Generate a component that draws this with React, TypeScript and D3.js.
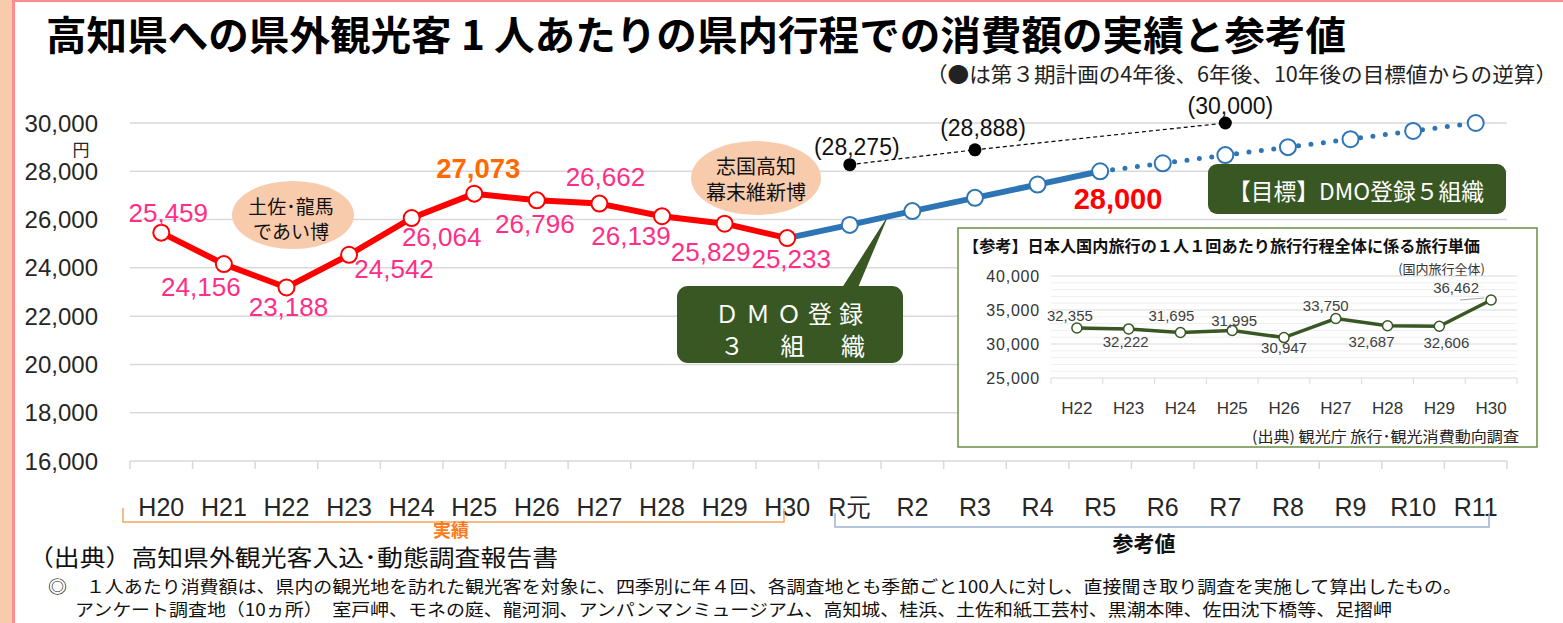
import React from "react";
import * as d3 from "d3";

const categories = ["H20","H21","H22","H23","H24","H25","H26","H27","H28","H29","H30","R元","R2","R3","R4","R5","R6","R7","R8","R9","R10","R11"];
const actualCats = ["H20","H21","H22","H23","H24","H25","H26","H27","H28","H29","H30"];
const actualValues = [25459, 24156, 23188, 24542, 26064, 27073, 26796, 26662, 26139, 25829, 25233];
const refSolidCats = ["H30","R元","R2","R3","R4","R5"];
const refSolidValues = [25233, 25780, 26350, 26900, 27450, 28000];
const refDottedCats = ["R5","R6","R7","R8","R9","R10","R11"];
const refDottedValues = [28000, 28330, 28670, 29000, 29330, 29670, 30000];
const targetCats = ["R元","R3","R7"];
const targetValues = [28275, 28888, 30000];
const yTicks = [16000, 18000, 20000, 22000, 24000, 26000, 28000, 30000];

const insetCats = ["H22","H23","H24","H25","H26","H27","H28","H29","H30"];
const insetValues = [32355, 32222, 31695, 31995, 30947, 33750, 32687, 32606, 36462];
const insetTicks = [25000, 30000, 35000, 40000];
const insetMinor = [26000,27000,28000,29000,31000,32000,33000,34000,36000,37000,38000,39000];

// label offsets (style)
const actualLabelOffsets: [number, number][] = [[7,-20],[-23,23],[2,20],[45,14],[30,19],[4,-25],[-2,24],[6,-27],[-31,20],[-14,28],[4,21]];
const insetLabelOffsets: [number, number][] = [[-7,-12],[-3,13],[-9,-17],[2,-10],[0,10],[-10,-13],[-16,16],[7,16],[-35,-13]];
const targetLabelOffsets: [number, number][] = [[7,-18],[8,-22],[5,-17]];

const JP = "'Noto Sans CJK JP', sans-serif";
const LAT = "'Liberation Sans', Arial, sans-serif";
const fmt = d3.format(",");

export default function App() {
  const x = d3.scaleBand<string>().domain(categories).range([130, 1507]);
  const bw = x.bandwidth();
  const cx = (c: string) => (x(c) as number) + bw / 2;
  const y = d3.scaleLinear().domain([16000, 30000]).range([461, 123]);

  const line = d3.line<[string, number]>().x(d => cx(d[0])).y(d => y(d[1]));
  const actualPts: [string, number][] = actualCats.map((c, i) => [c, actualValues[i]]);
  const solidPts: [string, number][] = refSolidCats.map((c, i) => [c, refSolidValues[i]]);
  const dotPts: [string, number][] = refDottedCats.map((c, i) => [c, refDottedValues[i]]);
  const tgtPts: [string, number][] = targetCats.map((c, i) => [c, targetValues[i]]);

  const ix = d3.scaleBand<string>().domain(insetCats).range([1051, 1517]);
  const ibw = ix.bandwidth();
  const icx = (c: string) => (ix(c) as number) + ibw / 2;
  const iy = d3.scaleLinear().domain([25000, 40000]).range([378, 276]);
  const iline = d3.line<number>().x((_, i) => icx(insetCats[i])).y(d => iy(d));

  const pink = "#FF2E86";
  const green = "#385723";
  const blue = "#2E75B6";

  return (
    <svg width={1563} height={623} style={{ position: "absolute", left: 0, top: 0, background: "#fff" }}>
      {/* border */}
      <rect x={0} y={0} width={12} height={623} fill="#F8CBAD" />
      <rect x={12} y={0} width={3} height={623} fill="#FF8C8C" />
      <rect x={12} y={0} width={1551} height={2} fill="#FF8C8C" />

      {/* title */}
      <text x={46} y={33} fontFamily={JP} fontWeight={700} fontSize={40} dominantBaseline="central" textLength={1300} lengthAdjust="spacingAndGlyphs" fill="#000">高知県への県外観光客 1 人あたりの県内行程での消費額の実績と参考値</text>
      <text x={926} y={73} fontFamily={JP} fontSize={21} dominantBaseline="central" textLength={631} lengthAdjust="spacingAndGlyphs" fill="#222">（●は第３期計画の4年後、6年後、10年後の目標値からの逆算）</text>

      {/* grid */}
      {yTicks.map(t => (
        <g key={t}>
          {t > 16000 && <line x1={130} x2={1507} y1={y(t)} y2={y(t)} stroke="#D9D9D9" strokeWidth={1.5} />}
          <text x={98} y={y(t)} textAnchor="end" dominantBaseline="central" fontFamily={LAT} fontSize={24} fill="#262626">{fmt(t)}</text>
        </g>
      ))}
      <text x={81} y={148} textAnchor="middle" dominantBaseline="central" fontFamily={JP} fontSize={17} fill="#262626">円</text>
      <line x1={130} x2={1507} y1={y(16000)} y2={y(16000)} stroke="#D9D9D9" strokeWidth={1.5} />
      {categories.map((c, i) => (
        <line key={"t" + c} x1={x(c) as number} x2={x(c) as number} y1={y(16000)} y2={y(16000) + 8} stroke="#D9D9D9" strokeWidth={1.5} />
      ))}
      <line x1={1507} x2={1507} y1={y(16000)} y2={y(16000) + 8} stroke="#D9D9D9" strokeWidth={1.5} />
      {categories.map(c => (
        <text key={"l" + c} x={cx(c)} y={507} textAnchor="middle" dominantBaseline="central" fontFamily={LAT} fontSize={25} fill="#262626">{c}</text>
      ))}

      {/* brackets */}
      <path d={`M123,508 V522 H784 V508`} fill="none" stroke="#F4A460" strokeWidth={1.5} />
      <text x={451} y={529} textAnchor="middle" dominantBaseline="central" fontFamily={JP} fontWeight={700} fontSize={18} fill="#FF7A1A">実績</text>
      <path d={`M835,513 V527 H1489 V513`} fill="none" stroke="#9DB3CF" strokeWidth={1.5} />
      <text x={1144} y={542} textAnchor="middle" dominantBaseline="central" fontFamily={JP} fontWeight={700} fontSize={21} fill="#111">参考値</text>

      {/* target dashed */}
      <path d={line(tgtPts) || ""} fill="none" stroke="#000" strokeWidth={1.2} strokeDasharray="4 3" />
      {tgtPts.map((p, i) => (
        <g key={"tg" + i}>
          <circle cx={cx(p[0])} cy={y(p[1])} r={6.5} fill="#000" />
          <text x={cx(p[0]) + targetLabelOffsets[i][0]} y={y(p[1]) + targetLabelOffsets[i][1]} textAnchor="middle" dominantBaseline="central" fontFamily={LAT} fontSize={23} fill="#111">({fmt(p[1])})</text>
        </g>
      ))}

      {/* callout wedge */}
      <polygon points="889,214 812,335 838,335" fill={green} />

      {/* lines */}
      <path d={line(dotPts) || ""} fill="none" stroke={blue} strokeWidth={5} strokeLinecap="round" strokeDasharray="0 12.5" />
      <path d={line(solidPts) || ""} fill="none" stroke={blue} strokeWidth={6} />
      <path d={line(actualPts) || ""} fill="none" stroke="#FF0000" strokeWidth={6} strokeLinejoin="round" />
      {dotPts.slice(1).map((p, i) => (
        <circle key={"dp" + i} cx={cx(p[0])} cy={y(p[1])} r={8} fill="#fff" stroke={blue} strokeWidth={2} />
      ))}
      {solidPts.slice(1).map((p, i) => (
        <circle key={"sp" + i} cx={cx(p[0])} cy={y(p[1])} r={8} fill="#fff" stroke={blue} strokeWidth={2} />
      ))}
      {actualPts.map((p, i) => (
        <circle key={"ap" + i} cx={cx(p[0])} cy={y(p[1])} r={8} fill="#fff" stroke="#FF0000" strokeWidth={2} />
      ))}
      {actualPts.map((p, i) => (
        <text key={"al" + i} x={cx(p[0]) + actualLabelOffsets[i][0]} y={y(p[1]) + actualLabelOffsets[i][1]} textAnchor="middle" dominantBaseline="central" fontFamily={LAT}
          fontSize={i === 5 ? 27.5 : 26} fontWeight={i === 5 ? 700 : 400} fill={i === 5 ? "#FF6A00" : pink}>{fmt(p[1])}</text>
      ))}
      <text x={1118} y={199} textAnchor="middle" dominantBaseline="central" fontFamily={LAT} fontWeight={700} fontSize={29} fill="#FF0000">{fmt(refSolidValues[refSolidValues.length - 1])}</text>

      {/* bubbles */}
      <ellipse cx={293} cy={215} rx={61} ry={34} fill="#F8CBAD" />
      <text x={291} y={205} textAnchor="middle" dominantBaseline="central" fontFamily={JP} fontSize={19} fill="#111">土佐･龍馬</text>
      <text x={291} y={230} textAnchor="middle" dominantBaseline="central" fontFamily={JP} fontSize={19} fill="#111">であい博</text>
      <ellipse cx={756} cy={178} rx={65} ry={37} fill="#F8CBAD" />
      <text x={756} y={165} textAnchor="middle" dominantBaseline="central" fontFamily={JP} fontSize={20} fill="#111">志国高知</text>
      <text x={756} y={191} textAnchor="middle" dominantBaseline="central" fontFamily={JP} fontSize={20} fill="#111">幕末維新博</text>

      {/* DMO boxes */}
      <rect x={677} y={286} width={226} height={77} rx={11} fill={green} />
      <text x={715} y={312} dominantBaseline="central" fontFamily={JP} fontSize={24} fill="#fff" textLength={148} lengthAdjust="spacing">ＤＭＯ登録</text>
      <text x={720} y={344} dominantBaseline="central" fontFamily={JP} fontSize={24} fill="#fff" textLength={145} lengthAdjust="spacing">３　組　織</text>
      <rect x={1208} y={164} width={298} height={50} rx={9} fill={green} />
      <text x={1228} y={190} dominantBaseline="central" fontFamily={JP} fontSize={23} fill="#fff" textLength={256} lengthAdjust="spacingAndGlyphs">【目標】DMO登録５組織</text>

      {/* inset */}
      <rect x={958} y={228} width={579} height={219} fill="#fff" stroke="#6B8E45" strokeWidth={1.5} />
      <text x={963} y={245} dominantBaseline="central" fontFamily={JP} fontWeight={700} fontSize={16} fill="#111" textLength={517} lengthAdjust="spacingAndGlyphs">【参考】日本人国内旅行の１人１回あたり旅行行程全体に係る旅行単価</text>
      <text x={1485} y={268} textAnchor="end" dominantBaseline="central" fontFamily={JP} fontSize={13} fill="#333">(国内旅行全体)</text>
      {insetMinor.map(t => (
        <line key={"im" + t} x1={1051} x2={1517} y1={iy(t)} y2={iy(t)} stroke="#EFEFEF" strokeWidth={1} />
      ))}
      {insetTicks.map(t => (
        <g key={"it" + t}>
          <line x1={1051} x2={1517} y1={iy(t)} y2={iy(t)} stroke="#D9D9D9" strokeWidth={1} />
          <text x={1040} y={iy(t)} textAnchor="end" dominantBaseline="central" fontFamily={LAT} fontSize={16} fill="#333" letterSpacing={0.8}>{fmt(t)}</text>
        </g>
      ))}
      {insetCats.map(c => (
        <g key={"ic" + c}>
          <line x1={ix(c) as number} x2={ix(c) as number} y1={iy(25000)} y2={iy(25000) + 6} stroke="#D9D9D9" />
          <text x={icx(c)} y={408} textAnchor="middle" dominantBaseline="central" fontFamily={LAT} fontSize={17} fill="#333">{c}</text>
        </g>
      ))}
      <line x1={1517} x2={1517} y1={iy(25000)} y2={iy(25000) + 6} stroke="#D9D9D9" />
      <line x1={1460} x2={1484} y1={300} y2={298} stroke="#A6A6A6" strokeWidth={1} />
      <path d={iline(insetValues) || ""} fill="none" stroke={green} strokeWidth={3.5} />
      {insetValues.map((v, i) => (
        <g key={"iv" + i}>
          <circle cx={icx(insetCats[i])} cy={iy(v)} r={5} fill="#fff" stroke={green} strokeWidth={1.5} />
          <text x={icx(insetCats[i]) + insetLabelOffsets[i][0]} y={iy(v) + insetLabelOffsets[i][1]} textAnchor="middle" dominantBaseline="central" fontFamily={LAT} fontSize={15} fill="#404040">{fmt(v)}</text>
        </g>
      ))}
      <text x={1252} y={435} dominantBaseline="central" fontFamily={JP} fontSize={15} fill="#222" textLength={267} lengthAdjust="spacingAndGlyphs">(出典) 観光庁 旅行･観光消費動向調査</text>

      {/* sources */}
      <text x={28} y={556} dominantBaseline="central" fontFamily={JP} fontSize={23} fill="#111" textLength={530} lengthAdjust="spacingAndGlyphs">（出典）高知県外観光客入込･動態調査報告書</text>
      <text x={48} y={585} dominantBaseline="central" fontFamily={JP} fontSize={17} fill="#111" textLength={1414} lengthAdjust="spacingAndGlyphs">◎　１人あたり消費額は、県内の観光地を訪れた観光客を対象に、四季別に年４回、各調査地とも季節ごと100人に対し、直接聞き取り調査を実施して算出したもの。</text>
      <text x={75} y={608} dominantBaseline="central" fontFamily={JP} fontSize={17} fill="#111" textLength={1317} lengthAdjust="spacingAndGlyphs">アンケート調査地（10ヵ所）　室戸岬、モネの庭、龍河洞、アンパンマンミュージアム、高知城、桂浜、土佐和紙工芸村、黒潮本陣、佐田沈下橋等、足摺岬</text>
    </svg>
  );
}
